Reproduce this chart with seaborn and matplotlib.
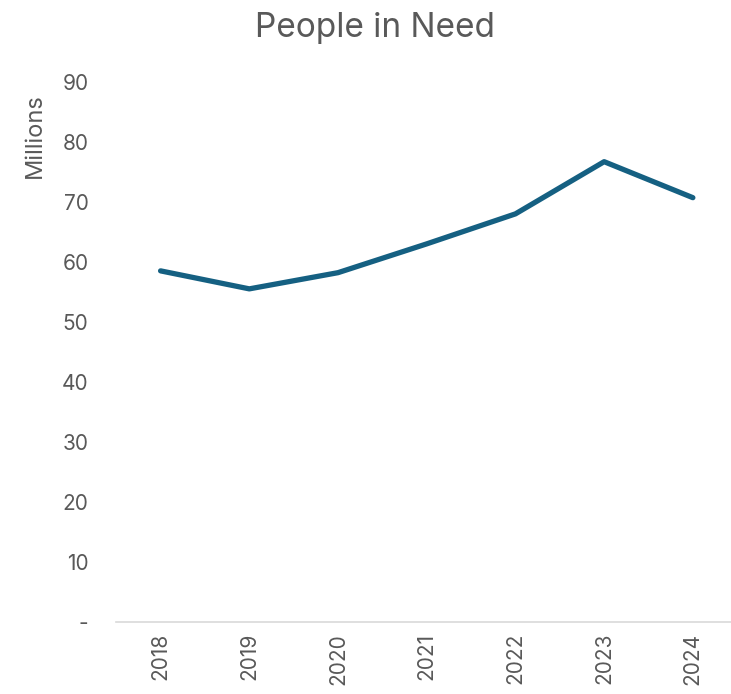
import matplotlib
matplotlib.use("Agg")
import matplotlib.pyplot as plt
import seaborn as sns
import pandas as pd

years = ["2018", "2019", "2020", "2021", "2022", "2023", "2024"]
people_millions = [58.5, 55.5, 58.2, 63.0, 68.0, 76.7, 70.7]
y_ticks = [0, 10, 20, 30, 40, 50, 60, 70, 80, 90]
y_tick_labels = ["-", "10", "20", "30", "40", "50", "60", "70", "80", "90"]

sns.set_style("white")
plt.rcParams['font.family'] = ['Inter', 'DejaVu Sans']

gray = "#595959"
df = pd.DataFrame({"year": years, "people": people_millions})

fig = plt.figure(figsize=(7.31, 6.94), dpi=100)
ax = fig.add_axes([0.159, 0.104, 0.841, 0.778])
sns.lineplot(data=df, x="year", y="people", ax=ax, color="#156082",
             linewidth=3.8, solid_capstyle="round", solid_joinstyle="round")

ax.set_ylim(0, 90)
ax.set_xlim(-0.5, 6.43)
ax.set_yticks(y_ticks)
ax.set_yticklabels(y_tick_labels)
ax.tick_params(axis="y", length=0, pad=20, labelsize=15, labelcolor=gray)
ax.tick_params(axis="x", length=0, pad=8, labelsize=15, labelcolor=gray, labelrotation=90)
for lbl in ax.get_yticklabels():
    lbl.set_horizontalalignment("right")

for side in ["top", "right", "left"]:
    ax.spines[side].set_visible(False)
ax.spines["bottom"].set_color("#D9D9D9")
ax.spines["bottom"].set_linewidth(1.2)
ax.set_xlabel("")
ax.set_ylabel("")

fig.text(0.048, 1 - 136 / 694, "Millions", rotation=90, ha="center", va="center",
         fontsize=17, color=gray)
fig.text(375 / 731, 1 - 28 / 694, "People in Need", ha="center", va="center",
         fontsize=24, color=gray)

fig.savefig("out.png", dpi=100)
